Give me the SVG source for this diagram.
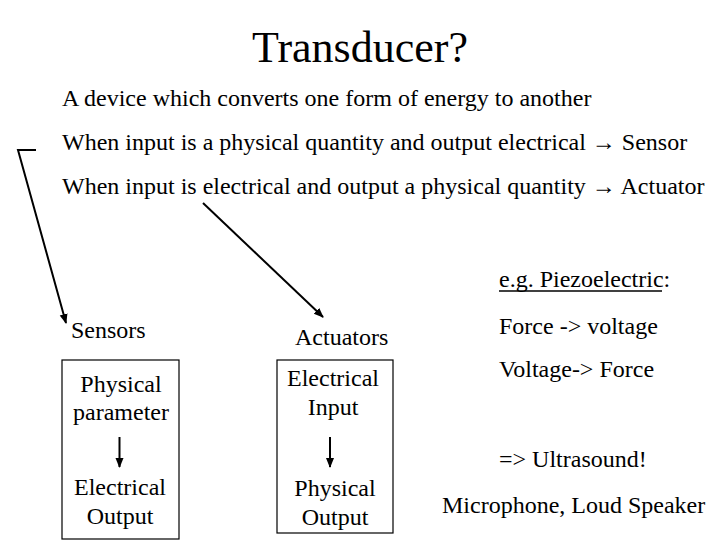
<svg xmlns="http://www.w3.org/2000/svg" width="720" height="540" viewBox="0 0 720 540">
<style>
text{font-family:"Liberation Serif","Times New Roman","DejaVu Serif",serif;fill:#000;font-size:24px}
.t{font-size:44px}
.c{text-anchor:middle}
.ln{stroke:#000;stroke-width:2;fill:none}
.box{stroke:#000;stroke-width:1.2;fill:#fff}
</style>
<defs>
<marker id="ah" viewBox="0 0 10 10" refX="9" refY="5" markerWidth="5" markerHeight="5" orient="auto" markerUnits="strokeWidth">
<path d="M0,1 L10,5 L0,9 Z" fill="#000"/>
</marker>
</defs>
<rect width="720" height="540" fill="#fff"/>
<g id="title"><text class="t c" x="360" y="62">Transducer?</text></g>
<g id="lines">
<text x="62" y="106">A device which converts one form of energy to another</text>
<text x="62" y="150">When input is a physical quantity and output electrical → Sensor</text>
<text x="62" y="194">When input is electrical and output a physical quantity → Actuator</text>
</g>
<g id="sensor">
<text x="71" y="338">Sensors</text>
<rect class="box" x="62" y="360" width="117" height="179"/>
<text class="c" x="121" y="392">Physical</text>
<text class="c" x="121" y="420">parameter</text>
<text class="c" x="120" y="495">Electrical</text>
<text class="c" x="120" y="524">Output</text>
</g>
<g id="actuator">
<text x="295" y="345">Actuators</text>
<rect class="box" x="277" y="360" width="116" height="173"/>
<text class="c" x="333" y="386">Electrical</text>
<text class="c" x="333" y="415">Input</text>
<text class="c" x="335" y="496">Physical</text>
<text class="c" x="335" y="525">Output</text>
</g>
<g id="examples">
<text x="499" y="287">e.g. Piezoelectric:</text>
<line x1="499" y1="291" x2="662" y2="291" stroke="#000" stroke-width="1.5"/>
<text x="499" y="334">Force -&gt; voltage</text>
<text x="499" y="377">Voltage-&gt; Force</text>
<text x="499" y="467">=&gt; Ultrasound!</text>
<text x="442" y="513">Microphone, Loud Speaker</text>
</g>
<g id="connectors">
<polyline class="ln" points="36,150 18,150 66,323" marker-end="url(#ah)"/>
<line class="ln" x1="203" y1="203" x2="323" y2="317" marker-end="url(#ah)"/>
<line class="ln" x1="119.5" y1="437" x2="119.5" y2="467" marker-end="url(#ah)"/>
<line class="ln" x1="330" y1="437" x2="330" y2="467" marker-end="url(#ah)"/>
</g>
</svg>
